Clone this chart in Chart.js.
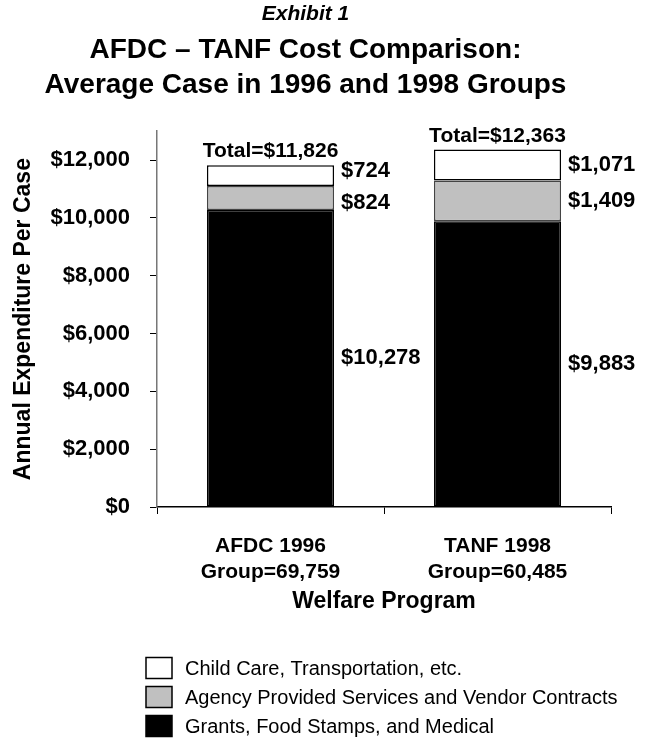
<!DOCTYPE html>
<html lang="en">
<head>
<meta charset="UTF-8">
<title>AFDC - TANF Cost Comparison</title>
<script src="https://cdn.jsdelivr.net/npm/chart.js@4.4.1/dist/chart.umd.min.js"></script>
<style>
  html, body { margin: 0; padding: 0; background: #fff; }
  .wrapper { width: 653px; height: 738px; }
</style>
</head>
<body>
<div class="wrapper">
  <canvas id="costChart" width="653" height="738"></canvas>
</div>
<script>
// program groups (two-line axis labels)
var programs = [['AFDC 1996', 'Group=69,759'], ['TANF 1998', 'Group=60,485']];

// average annual cost per case, by component
var grantsFoodMedical = [10278, 9883];
var agencyVendor = [824, 1409];
var childCareTransport = [724, 1071];

var yTickValues = [0, 2000, 4000, 6000, 8000, 10000, 12000];

var FONT = "'Liberation Sans', Arial, Helvetica, sans-serif";

function dollars(v) {
  return '$' + v.toLocaleString('en-US');
}

// labels next to each segment plus the total above each bar
var barLabels = {
  id: 'barLabels',
  afterDatasetsDraw: function (chart) {
    var ctx = chart.ctx;
    var n = chart.data.labels.length;
    ctx.save();
    ctx.fillStyle = '#000';
    for (var i = 0; i < n; i++) {
      var ys = [];
      var x = 0, top = Infinity, cx = 0;
      for (var d = chart.data.datasets.length - 1; d >= 0; d--) {
        var bar = chart.getDatasetMeta(d).data[i];
        var props = bar.getProps(['x', 'y', 'base', 'width'], true);
        x = props.x + props.width / 2 + 7;
        cx = props.x;
        top = Math.min(top, props.y);
        ys.push({ y: (props.y + props.base) / 2, text: dollars(chart.data.datasets[d].data[i]) });
      }
      // keep the small segment labels from running into each other
      for (var k = 1; k < ys.length; k++) {
        var gap = ys[k].y - ys[k - 1].y;
        if (gap < 32) {
          var push = (32 - gap) / 2;
          ys[k - 1].y -= push;
          ys[k].y += push;
        }
      }
      ctx.font = 'bold 22px ' + FONT;
      ctx.textAlign = 'left';
      ctx.textBaseline = 'middle';
      ys.forEach(function (l) { ctx.fillText(l.text, x, l.y); });

      var total = 0;
      chart.data.datasets.forEach(function (ds) { total += ds.data[i]; });
      ctx.font = 'bold 21px ' + FONT;
      ctx.textAlign = 'center';
      ctx.textBaseline = 'alphabetic';
      ctx.fillText('Total=' + dollars(total), cx, top - 8);
    }
    ctx.restore();
  }
};

// vertical legend under the axis title, top entry first
var stackLegend = {
  id: 'stackLegend',
  afterDraw: function (chart) {
    var ctx = chart.ctx;
    var sets = chart.data.datasets.slice().reverse();
    ctx.save();
    ctx.font = '20px ' + FONT;
    ctx.textAlign = 'left';
    ctx.textBaseline = 'middle';
    sets.forEach(function (ds, i) {
      var y = 668 + i * 29;
      ctx.fillStyle = ds.backgroundColor;
      ctx.fillRect(146, y - 10.5, 26, 21);
      ctx.strokeStyle = '#000';
      ctx.lineWidth = 1.5;
      ctx.strokeRect(146, y - 10.5, 26, 21);
      ctx.fillStyle = '#000';
      ctx.fillText(ds.label, 185, y + 1);
    });
    ctx.restore();
  }
};

var ctx = document.getElementById('costChart').getContext('2d');
var chart = new Chart(ctx, {
  type: 'bar',
  data: {
    labels: programs,
    datasets: [
      {
        label: 'Grants, Food Stamps, and Medical',
        data: grantsFoodMedical,
        backgroundColor: '#000000',
        borderColor: '#000000',
        borderWidth: 1.5
      },
      {
        label: 'Agency Provided Services and Vendor Contracts',
        data: agencyVendor,
        backgroundColor: '#c0c0c0',
        borderColor: '#444444',
        borderWidth: 1.5
      },
      {
        label: 'Child Care, Transportation, etc.',
        data: childCareTransport,
        backgroundColor: '#ffffff',
        borderColor: '#000000',
        borderWidth: 1.5
      }
    ]
  },
  options: {
    responsive: false,
    animation: false,
    layout: { padding: { top: 0, right: 42, bottom: 118, left: 0 } },
    datasets: { bar: { categoryPercentage: 1, barPercentage: 0.56, borderSkipped: false } },
    plugins: {
      legend: { display: false },
      tooltip: { enabled: false },
      title: {
        display: true,
        text: 'Exhibit 1',
        color: '#000',
        font: { family: FONT, size: 21, weight: 'bold', style: 'italic' },
        padding: { top: 2, bottom: 2 }
      },
      subtitle: {
        display: true,
        text: ['AFDC \u2013 TANF Cost Comparison:', 'Average Case in 1996 and 1998 Groups'],
        color: '#000',
        font: { family: FONT, size: 28, weight: 'bold', lineHeight: 1.25 },
        padding: { top: 4, bottom: 28 }
      }
    },
    scales: {
      x: {
        stacked: true,
        afterFit: function (scale) { scale.height = 113; },
        grid: {
          display: true,
          offset: true,
          drawOnChartArea: false,
          drawTicks: true,
          tickLength: 7,
          color: '#000'
        },
        border: { display: true, color: '#000', width: 1.5 },
        ticks: {
          color: '#000',
          padding: 19,
          maxRotation: 0,
          font: { family: FONT, size: 21, weight: 'bold', lineHeight: 1.25 }
        },
        title: {
          display: true,
          text: 'Welfare Program',
          color: '#000',
          font: { family: FONT, size: 23, weight: 'bold' },
          padding: { top: 0, bottom: 5 }
        }
      },
      y: {
        stacked: true,
        min: 0,
        max: 13000,
        afterFit: function (scale) { scale.width = 157; },
        afterBuildTicks: function (scale) {
          scale.ticks = yTickValues.map(function (v) { return { value: v }; });
        },
        grid: {
          display: true,
          drawOnChartArea: false,
          drawTicks: true,
          tickLength: 7,
          color: '#000'
        },
        border: { display: true, color: '#777', width: 1.5 },
        ticks: {
          color: '#000',
          padding: 20,
          font: { family: FONT, size: 22, weight: 'bold' },
          callback: function (v) { return dollars(v); }
        },
        title: {
          display: true,
          text: 'Annual Expenditure Per Case',
          color: '#000',
          font: { family: FONT, size: 23, weight: 'bold' },
          padding: { top: 10, bottom: 0 }
        }
      }
    }
  },
  plugins: [barLabels, stackLegend]
});
</script>
</body>
</html>
